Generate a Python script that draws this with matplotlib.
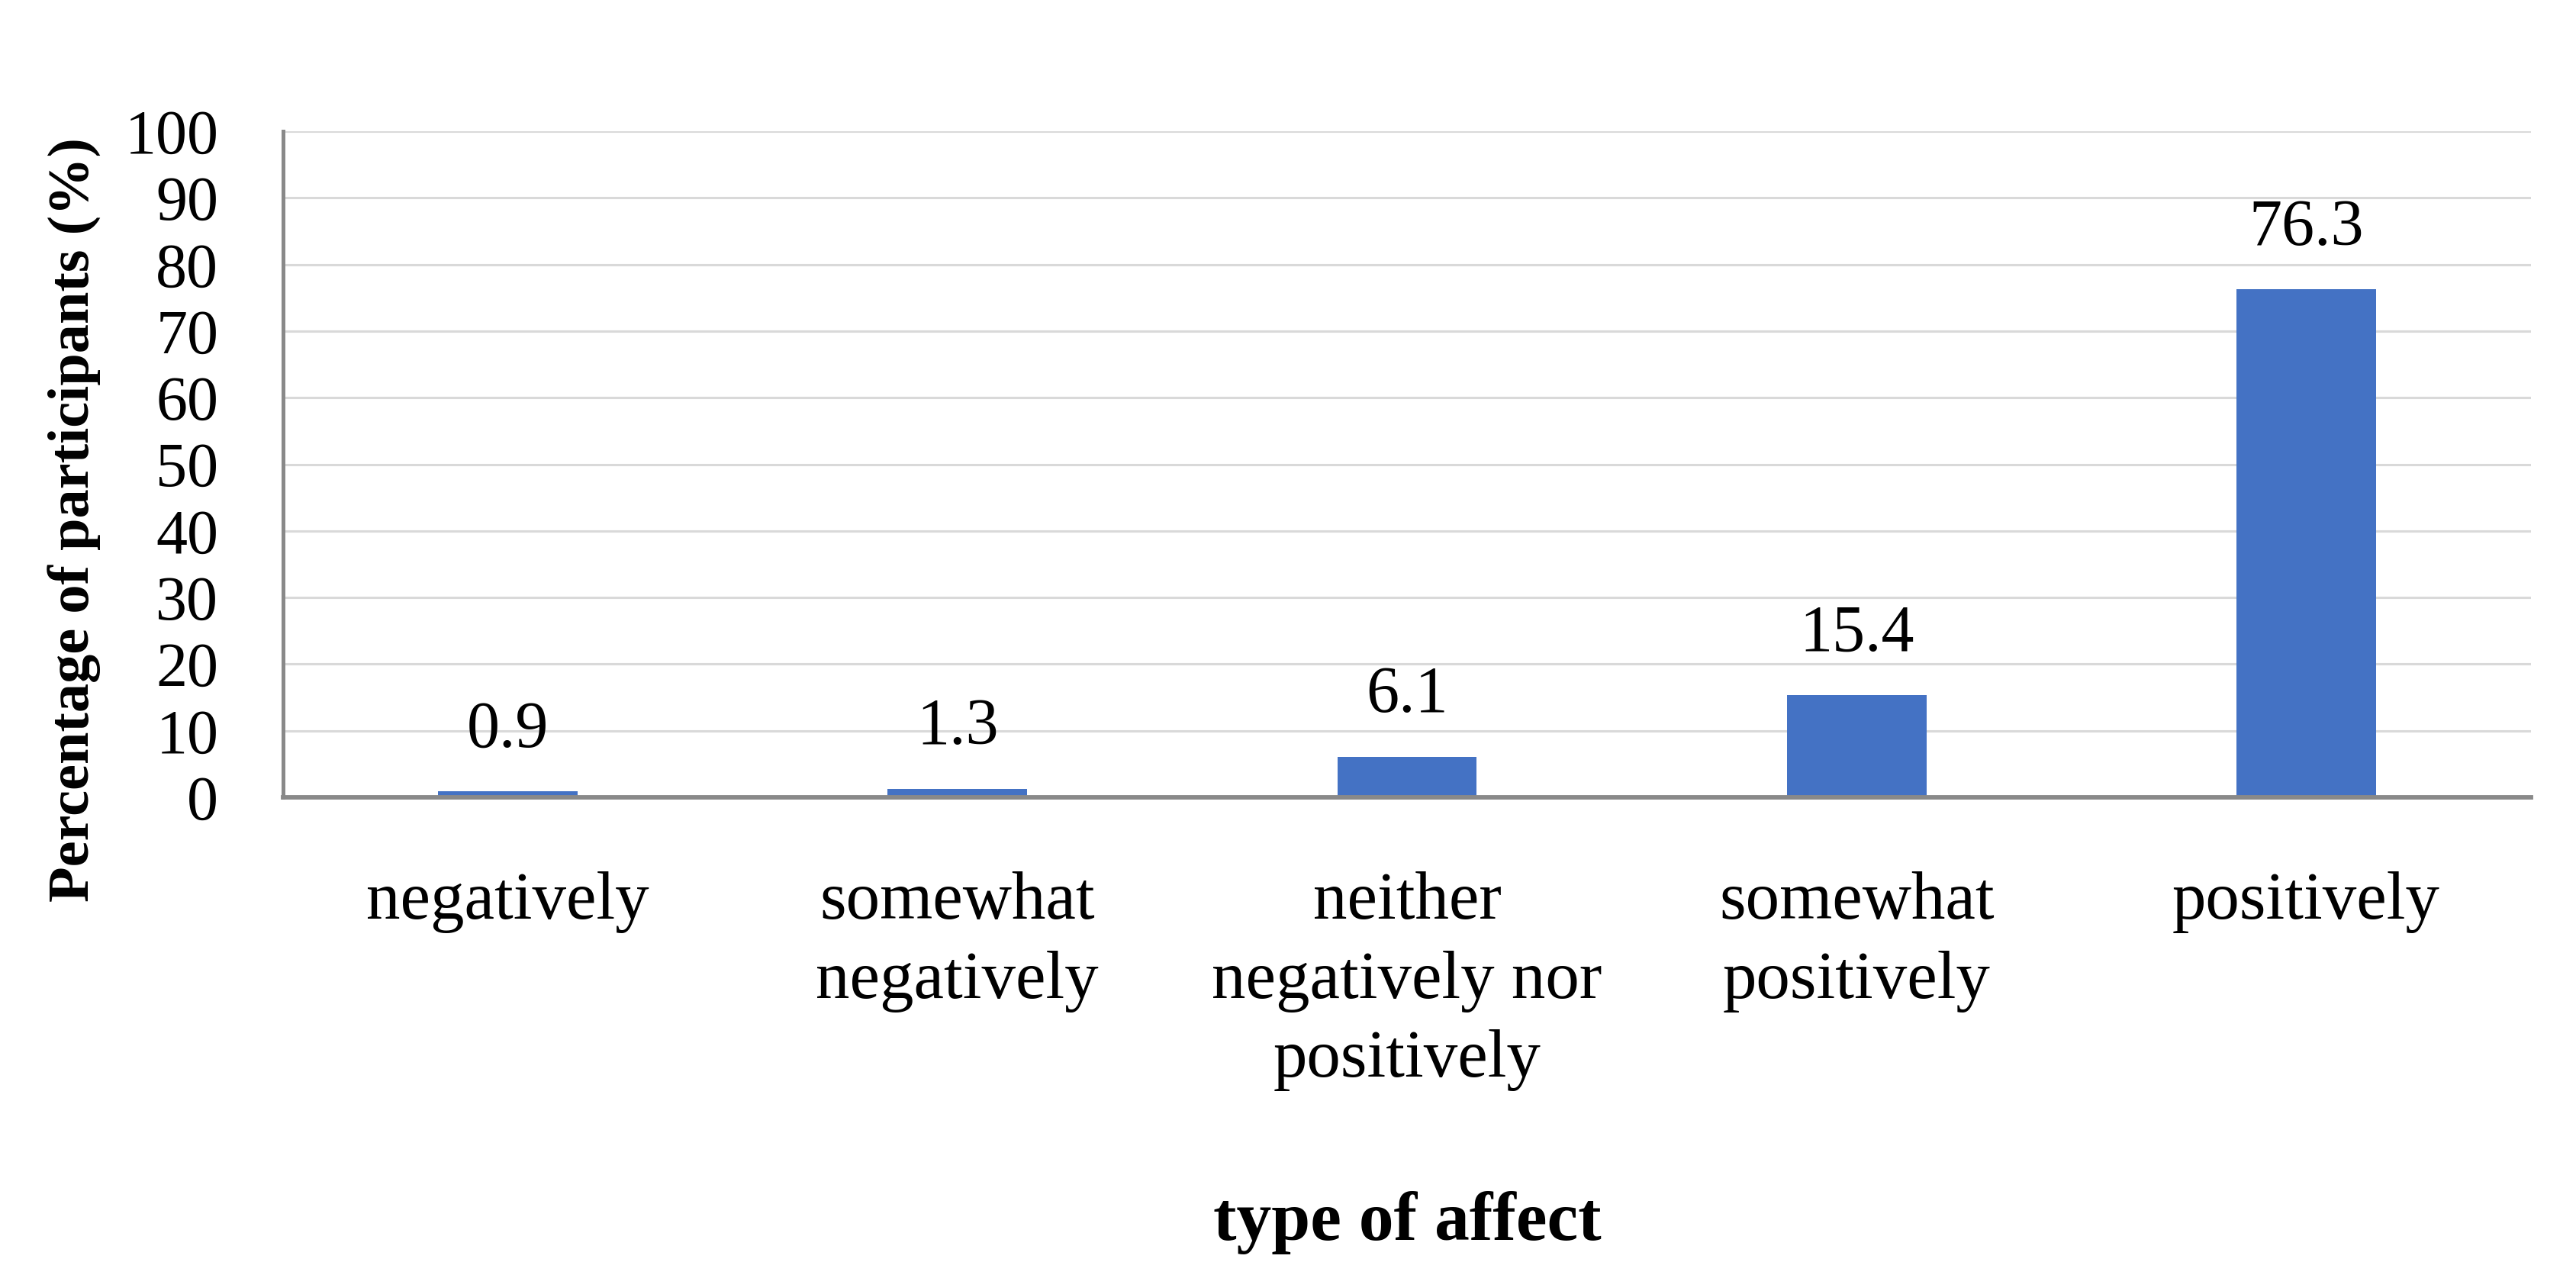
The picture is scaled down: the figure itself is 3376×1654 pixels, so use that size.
import matplotlib
matplotlib.use("Agg")
import matplotlib.pyplot as plt

categories = ["negatively", "somewhat\nnegatively", "neither\nnegatively nor\npositively",
              "somewhat\npositively", "positively"]
values = [0.9, 1.3, 6.1, 15.4, 76.3]
yticks = [0, 10, 20, 30, 40, 50, 60, 70, 80, 90, 100]
value_labels = ["0.9", "1.3", "6.1", "15.4", "76.3"]

plt.rcParams['font.family'] = ['Liberation Serif', 'DejaVu Serif']

W, H = 3376, 1654
fig = plt.figure(figsize=(W / 100, H / 100), dpi=100)
ax = fig.add_axes([371 / W, 1 - 1045 / H, (3317 - 371) / W, (1045 - 172) / H])

x = list(range(len(categories)))
ax.bar(x, values, width=0.31, color="#4472C4", zorder=2)
ax.set_xlim(-0.5, len(categories) - 0.5)
ax.set_ylim(0, 100)
ax.set_yticks(yticks)
ax.set_yticklabels([str(t) for t in yticks], fontsize=59)
ax.set_xticks(x)
ax.set_xticklabels(categories, fontsize=64, linespacing=1.36)
ax.tick_params(axis='y', length=0, pad=61)
ax.tick_params(axis='x', length=0, pad=70)
ax.yaxis.grid(True, color="#d9d9d9", linewidth=2.2, zorder=0)
ax.set_axisbelow(True)
for s in ['top', 'right']:
    ax.spines[s].set_visible(False)
ax.spines['left'].set_color("#898989")
ax.spines['left'].set_linewidth(3.6)
ax.spines['bottom'].set_color("#898989")
ax.spines['bottom'].set_linewidth(4.2)
ax.spines['bottom'].set_zorder(3)

for xi, v, lab in zip(x, values, value_labels):
    ax.annotate(lab, (xi, v), xytext=(0, 42), textcoords="offset points",
                ha="center", va="baseline", fontsize=62)

fig.text(98 / W, 1 - 681 / H, "Percentage of participants (%)", rotation=90,
         ha="center", va="center", fontsize=55, fontweight="bold")
fig.text(1844 / W, 1 - 1602 / H, "type of affect", ha="center", va="center",
         fontsize=66, fontweight="bold")

fig.savefig("out.png", dpi=100, facecolor="white")
